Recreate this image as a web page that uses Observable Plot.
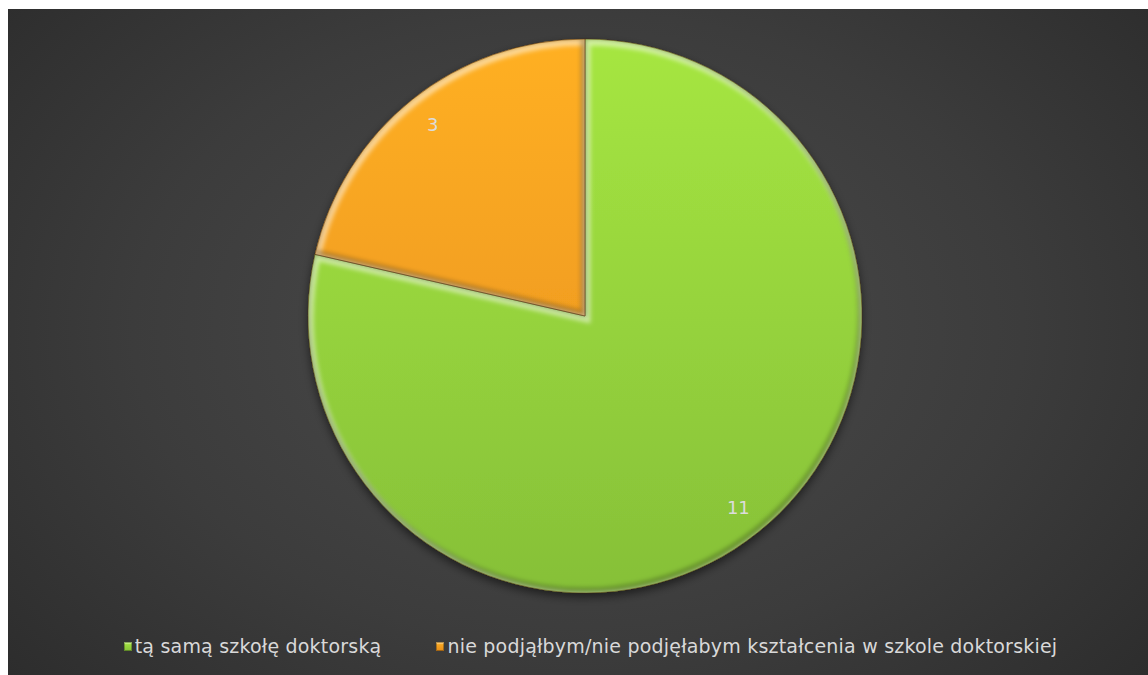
<!DOCTYPE html>
<html>
<head>
<meta charset="utf-8">
<script src="https://cdn.jsdelivr.net/npm/d3@7"></script>
<script src="https://cdn.jsdelivr.net/npm/@observablehq/plot@0.6"></script>
<style>
  html, body { margin: 0; padding: 0; background: #ffffff; width: 1148px; height: 675px; overflow: hidden; }
  #frame {
    position: absolute; left: 8px; top: 9px; width: 1140px; height: 666px;
    background: radial-gradient(ellipse 78% 95% at 50% 48%, #4c4c4c 0%, #3c3c3c 50%, #262626 100%);
    overflow: hidden;
  }
  #chart { position: absolute; left: 0; top: 0; }
  #legend {
    position: absolute; left: 0; top: 624px; width: 1140px; height: 26px;
    display: flex; justify-content: center; align-items: center; gap: 55px;
    padding-left: 25px; box-sizing: border-box;
    font-family: "DejaVu Sans", sans-serif; font-size: 19px; letter-spacing: 0.2px; color: #d9d9d9;
  }
  .item { display: flex; align-items: center; white-space: nowrap; }
  .sw { width: 8px; height: 9px; margin-right: 3px; box-shadow: inset 0 0 0 1px rgba(0,0,0,0.3), inset 0 2px 1px rgba(255,255,255,0.35); }
</style>
</head>
<body>
<div id="frame">
  <div id="chart"></div>
  <div id="legend"></div>
</div>
<script>
// ---- data ----
const categories = ["tą samą szkołę doktorską", "nie podjąłbym/nie podjęłabym kształcenia w szkole doktorskiej"];
const values = [11, 3];
const colorsTop = ["#a6e641", "#ffb024"];
const colorsBottom = ["#86c038", "#e58d1b"];

const data = categories.map((c, i) => ({category: c, value: values[i], i}));
const arcs = d3.pie().sort(null).value(d => d.value)(data);

// label positions along each slice's bisector (unit-radius coordinates)
const labelR = 0.885;
const labels = arcs.map(a => {
  const mid = (a.startAngle + a.endAngle) / 2;
  return {x: labelR * Math.sin(mid), y: labelR * Math.cos(mid), text: String(a.data.value)};
});

function pieMark(index, scales, channels, dimensions, context) {
  const cx = scales.x(0), cy = scales.y(0);
  const r = scales.x(1) - scales.x(0);
  const arcGen = d3.arc().innerRadius(0).outerRadius(r);
  const g = d3.create("svg:g").attr("transform", `translate(${cx},${cy})`);
  const defs = g.append("defs");
  const sh = defs.append("filter").attr("id", "pieShadow").attr("x", "-20%").attr("y", "-20%").attr("width", "140%").attr("height", "140%");
  sh.append("feDropShadow").attr("dx", 0).attr("dy", 4).attr("stdDeviation", 5).attr("flood-color", "#000").attr("flood-opacity", 0.55);
  const bl = defs.append("filter").attr("id", "bevelBlur");
  bl.append("feGaussianBlur").attr("stdDeviation", 2.2);
  arcs.forEach((a, i) => {
    const lg = defs.append("linearGradient").attr("id", "grad" + i)
      .attr("gradientUnits", "userSpaceOnUse").attr("x1", 0).attr("y1", -r).attr("x2", 0).attr("y2", r);
    lg.append("stop").attr("offset", "0%").attr("stop-color", colorsTop[a.data.i]);
    lg.append("stop").attr("offset", "100%").attr("stop-color", colorsBottom[a.data.i]);
    defs.append("clipPath").attr("id", "clip" + i).append("path").attr("d", arcGen(a));
  });
  const sg = g.append("g").attr("filter", "url(#pieShadow)");
  arcs.forEach((a, i) => {
    sg.append("path").attr("d", arcGen(a)).attr("fill", `url(#grad${i})`);
  });
  arcs.forEach((a, i) => {
    const cg = g.append("g").attr("clip-path", `url(#clip${i})`);
    cg.append("path").attr("d", arcGen(a)).attr("fill", "none")
      .attr("stroke", "rgba(255,255,255,0.5)").attr("stroke-width", 8)
      .attr("filter", "url(#bevelBlur)").attr("transform", "translate(1.5,2.5)");
    cg.append("path").attr("d", arcGen(a)).attr("fill", "none")
      .attr("stroke", "rgba(0,0,0,0.25)").attr("stroke-width", 6)
      .attr("filter", "url(#bevelBlur)").attr("transform", "translate(-1.5,-2.5)");
    g.append("path").attr("d", arcGen(a)).attr("fill", "none")
      .attr("stroke", "rgba(80,40,0,0.5)").attr("stroke-width", 0.9);
  });
  return g.node();
}

const plot = Plot.plot({
  width: 1140,
  height: 615,
  marginLeft: 300,
  marginRight: 286,
  marginTop: 30,
  marginBottom: 31,
  x: {domain: [-1, 1], axis: null},
  y: {domain: [-1, 1], axis: null},
  style: {background: "transparent", overflow: "visible"},
  marks: [
    pieMark,
    Plot.text(labels, {x: "x", y: "y", text: "text", fill: "#dcdcdc", fontSize: 18, fontFamily: "DejaVu Sans, sans-serif"})
  ]
});
document.getElementById("chart").appendChild(plot);

const legend = d3.select("#legend");
categories.forEach((c, i) => {
  const it = legend.append("div").attr("class", "item");
  it.append("div").attr("class", "sw")
    .style("background", `linear-gradient(${colorsTop[i]}, ${colorsBottom[i]})`);
  it.append("span").text(c);
});
</script>
</body>
</html>
